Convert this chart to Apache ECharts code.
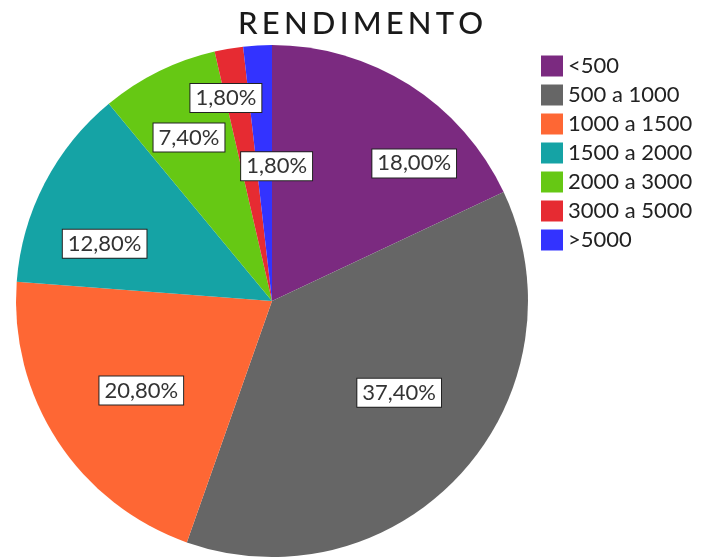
<!DOCTYPE html>
<html>
<head>
<meta charset="utf-8">
<script src="https://cdn.jsdelivr.net/npm/echarts@6/dist/echarts.min.js"></script>
<style>
  html, body { margin: 0; padding: 0; background: #fff; }
  #main { width: 705px; height: 559px; }
</style>
</head>
<body>
<div id="main"></div>
<script>
// categorias e percentagens
var categories = ['<500', '500 a 1000', '1000 a 1500', '1500 a 2000', '2000 a 3000', '3000 a 5000', '>5000'];
var values = [18.0, 37.4, 20.8, 12.8, 7.4, 1.8, 1.8];
var colors = ['#7b2a80', '#666666', '#fe6734', '#15a3a5', '#66c814', '#e62b32', '#3333ff'];
var titleText = 'RENDIMENTO';

// deslocamento das etiquetas (como no original)
var labelShift = [[72, -27], [30, 4], [-21, 18], [-51, 3], [-25, -46], [-24, -74], [12, -4]];

var chart = echarts.init(document.getElementById('main'));

var pieData = [];
for (var i = 0; i < categories.length; i++) {
  pieData.push({ name: categories[i], value: values[i], itemStyle: { color: colors[i] } });
}

// titulo com letras espaçadas
var spaced = titleText.split('').map(function (c) { return '{l|' + c + '}'; }).join('');

var option = {
  backgroundColor: '#fff',
  animation: false,
  title: {
    text: spaced,
    left: 236,
    top: 8,
    padding: 0,
    textStyle: {
      fontSize: 31,
      rich: {
        l: { fontFamily: 'Lato', fontSize: 31, fontWeight: 500, color: '#1a1a1a', padding: [0, 2.1] }
      }
    }
  },
  legend: {
    orient: 'vertical',
    left: 541,
    top: 55,
    padding: 0,
    icon: 'rect',
    itemWidth: 22,
    itemHeight: 21,
    itemGap: 7,
    data: categories,
    textStyle: { fontFamily: 'Lato', fontSize: 22, color: '#222' }
  },
  series: [{
    type: 'pie',
    center: [272, 301],
    radius: 256,
    startAngle: 90,
    clockwise: true,
    avoidLabelOverlap: false,
    itemStyle: { borderWidth: 0 },
    label: {
      show: true,
      position: 'inside',
      formatter: function (p) {
        return p.value.toFixed(2).replace('.', ',') + '%';
      },
      fontFamily: 'Lato',
      fontSize: 22,
      color: '#333',
      backgroundColor: '#fff',
      borderColor: '#222',
      borderWidth: 1,
      padding: [4, 5, 2, 5]
    },
    labelLine: { show: false },
    labelLayout: function (params) {
      var s = labelShift[params.dataIndex];
      return { dx: s[0], dy: s[1] };
    },
    emphasis: { disabled: true },
    data: pieData
  }]
};

chart.setOption(option);
</script>
</body>
</html>
